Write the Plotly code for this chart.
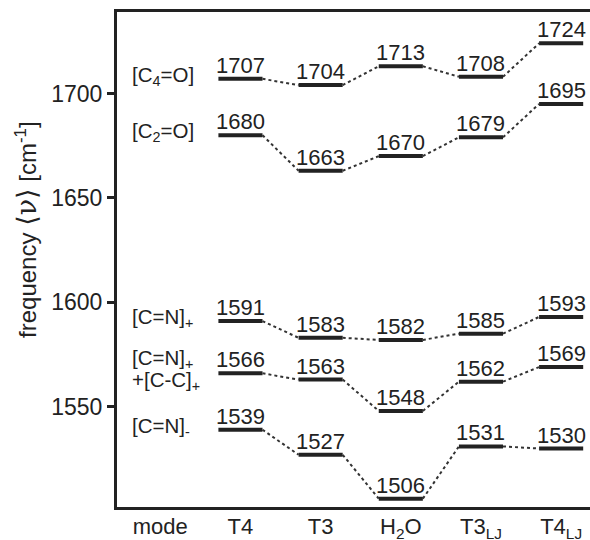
import plotly.graph_objects as go

# ---- data ----
columns = ["T4", "T3", "H<sub>2</sub>O", "T3<sub>LJ</sub>", "T4<sub>LJ</sub>"]
mode_labels = ["[C<sub>4</sub>=O]", "[C<sub>2</sub>=O]", "[C=N]<sub>+</sub>",
               "[C=N]<sub>+</sub><br>+[C-C]<sub>+</sub>", "[C=N]<sub>-</sub>"]
c4o = [1707, 1704, 1713, 1708, 1724]
c2o = [1680, 1663, 1670, 1679, 1695]
cn_plus = [1591, 1583, 1582, 1585, 1593]
cn_cc = [1566, 1563, 1548, 1562, 1569]
cn_minus = [1539, 1527, 1506, 1531, 1530]
series = [c4o, c2o, cn_plus, cn_cc, cn_minus]
y_ticks = [1550, 1600, 1650, 1700]

INK = "#222222"
FONT = "Liberation Sans, Arial, Helvetica, sans-serif"
HW = 0.275  # half width of a level bar (x units)

fig = go.Figure()
annotations = []

for vals, label in zip(series, mode_labels):
    xs = list(range(1, len(vals) + 1))
    # dotted connectors
    dx, dy = [], []
    for i in range(len(vals) - 1):
        dx += [xs[i] + HW, xs[i + 1] - HW, None]
        dy += [vals[i], vals[i + 1], None]
    fig.add_trace(go.Scatter(x=dx, y=dy, mode="lines",
                             line=dict(color="#333333", width=2, dash="dot"),
                             hoverinfo="skip", showlegend=False))
    # level bars
    bx, by = [], []
    for x, v in zip(xs, vals):
        bx += [x - HW, x + HW, None]
        by += [v, v, None]
    fig.add_trace(go.Scatter(x=bx, y=by, mode="lines",
                             line=dict(color=INK, width=4),
                             hoverinfo="skip", showlegend=False))
    # value labels
    for x, v in zip(xs, vals):
        annotations.append(dict(x=x, y=v, text=str(v), showarrow=False,
                                xanchor="center", yanchor="bottom", yshift=-1,
                                font=dict(size=22, color=INK, family=FONT)))
    # mode label
    lines = label.split("<br>")
    n = len(lines)
    for k, ln in enumerate(lines):
        annotations.append(dict(x=-0.38, y=vals[0], text=ln, showarrow=False,
                                xanchor="left", yanchor="middle",
                                yshift=3 + (n - 1) * 11 - k * 22,
                                font=dict(size=20.5, color=INK, family=FONT)))

annotations.append(dict(
    xref="paper", yref="paper", x=-0.19, y=0.56, textangle=-90,
    text=("frequency <span style='font-family:DejaVu Serif;font-size:27px'>"
          "\u27e8\u03bd\u27e9</span> [cm<sup>-1</sup>]"),
    showarrow=False, xanchor="center", yanchor="middle",
    font=dict(size=24, color=INK, family=FONT)))

fig.update_layout(
    width=590, height=540,
    margin=dict(l=117, r=0, t=12, b=33, autoexpand=False),
    paper_bgcolor="white", plot_bgcolor="white",
    annotations=annotations,
    xaxis=dict(range=[-0.54, 5.36], tickvals=list(range(0, len(columns) + 1)),
               ticktext=["mode"] + columns, ticks="", showgrid=False, zeroline=False,
               showline=True, linecolor=INK, linewidth=3, mirror=True,
               ticklabelstandoff=-2,
               tickfont=dict(size=22, color=INK, family=FONT)),
    yaxis=dict(range=[1502, 1739], tickvals=y_ticks, ticks="outside", ticklen=7,
               tickwidth=3, tickcolor=INK, showgrid=False, zeroline=False,
               showline=True, linecolor=INK, linewidth=3,
               tickfont=dict(size=23, color=INK, family=FONT)),
)

fig.write_html("out.html", config={"displayModeBar": False},
               post_script="document.body.style.margin='0';document.body.style.overflow='hidden';")
